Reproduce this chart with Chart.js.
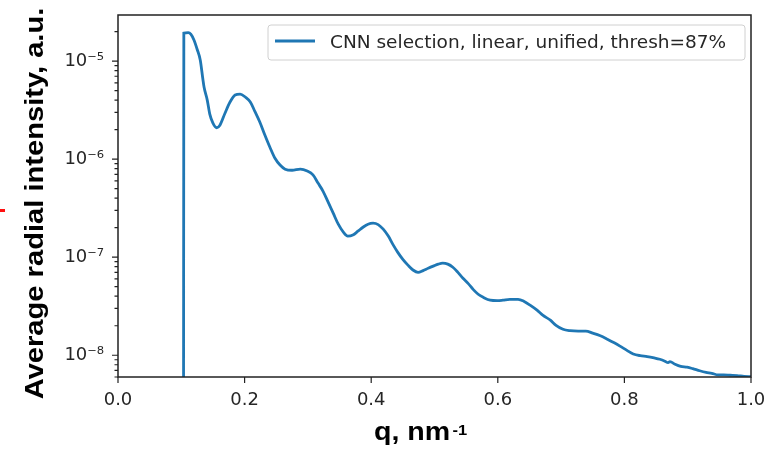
<!DOCTYPE html>
<html>
<head>
<meta charset="utf-8">
<script src="https://cdn.jsdelivr.net/npm/chart.js@4.4.1/dist/chart.umd.min.js"></script>
<style>
    html, body { margin: 0; padding: 0; background: #fff; }
    #wrap { position: relative; width: 781px; height: 451px; }
    #mark { position: absolute; left: 0; top: 209px; width: 5px; height: 3px; background: #ff1010; }
</style>
</head>
<body>
<div id="wrap">
    <canvas id="saxsChart" width="781" height="451"></canvas>
    <div id="mark"></div>
</div>
<script>
// q (nm^-1) and averaged radial intensity
const qValues = [
    0.1035, 0.104, 0.111, 0.115, 0.120, 0.125, 0.130, 0.134, 0.136, 0.141,
    0.145, 0.150, 0.156, 0.161, 0.169, 0.177, 0.185, 0.193, 0.201, 0.209,
    0.216, 0.224, 0.232, 0.240, 0.248, 0.256, 0.264, 0.275, 0.288, 0.299,
    0.308, 0.316, 0.324, 0.332, 0.340, 0.348, 0.356, 0.363, 0.371, 0.379,
    0.387, 0.395, 0.403, 0.411, 0.419, 0.427, 0.434, 0.442, 0.450, 0.458,
    0.466, 0.474, 0.482, 0.490, 0.498, 0.506, 0.513, 0.521, 0.529, 0.537,
    0.545, 0.553, 0.561, 0.569, 0.577, 0.588, 0.599, 0.608, 0.619, 0.632,
    0.641, 0.651, 0.662, 0.671, 0.683, 0.692, 0.703, 0.714, 0.727, 0.739,
    0.750, 0.762, 0.773, 0.784, 0.793, 0.804, 0.814, 0.825, 0.836, 0.847,
    0.856, 0.864, 0.869, 0.872, 0.880, 0.889, 0.899, 0.908, 0.919, 0.929,
    0.938, 0.948, 0.957, 0.967, 0.978, 0.989, 1.000
];
const intensity = [
    1e-9, 1.93e-5, 1.95e-5, 1.88e-5, 1.64e-5, 1.32e-5, 1.02e-5, 6.6e-6, 5.4e-6, 4.0e-6,
    2.88e-6, 2.33e-6, 2.09e-6, 2.22e-6, 2.94e-6, 3.82e-6, 4.5e-6, 4.6e-6, 4.3e-6, 3.82e-6,
    3.09e-6, 2.39e-6, 1.76e-6, 1.32e-6, 1.02e-6, 8.7e-7, 7.9e-7, 7.7e-7, 7.9e-7, 7.55e-7,
    6.9e-7, 5.7e-7, 4.7e-7, 3.64e-7, 2.81e-7, 2.17e-7, 1.80e-7, 1.64e-7, 1.68e-7, 1.84e-7,
    2.02e-7, 2.17e-7, 2.22e-7, 2.15e-7, 1.93e-7, 1.64e-7, 1.36e-7, 1.12e-7, 9.5e-8, 8.3e-8,
    7.4e-8, 7.0e-8, 7.3e-8, 7.7e-8, 8.1e-8, 8.5e-8, 8.7e-8, 8.5e-8, 7.9e-8, 7.0e-8,
    6.1e-8, 5.4e-8, 4.7e-8, 4.19e-8, 3.9e-8, 3.64e-8, 3.6e-8, 3.64e-8, 3.72e-8, 3.72e-8,
    3.56e-8, 3.24e-8, 2.88e-8, 2.56e-8, 2.28e-8, 2.02e-8, 1.84e-8, 1.78e-8, 1.76e-8, 1.76e-8,
    1.68e-8, 1.58e-8, 1.46e-8, 1.34e-8, 1.24e-8, 1.12e-8, 1.03e-8, 9.9e-9, 9.7e-9, 9.4e-9,
    9.1e-9, 8.7e-9, 8.4e-9, 8.6e-9, 8.1e-9, 7.7e-9, 7.55e-9, 7.3e-9, 6.95e-9, 6.7e-9,
    6.55e-9, 6.3e-9, 6.3e-9, 6.25e-9, 6.2e-9, 6.1e-9, 6.05e-9
];
const seriesLabel = 'CNN selection, linear, unified, thresh=87%';

const xTickValues = [0, 0.2, 0.4, 0.6, 0.8, 1.0];
const yTickValues = [1e-8, 1e-7, 1e-6, 1e-5];
const yTickLabels = ['10\u207B\u2078', '10\u207B\u2077', '10\u207B\u2076', '10\u207B\u2075'];
const yMin = 6e-9, yMax = 2.95e-5;

const xTitle = 'q, nm';
const xTitleSup = '-1';
const yTitle = 'Average radial intensity, a.u.';

const tickFont = { family: 'DejaVu Sans', size: 18 };

function logTicks(min, max) {
    const out = [];
    for (let e = Math.floor(Math.log10(min)); e <= Math.ceil(Math.log10(max)); e++) {
        for (let m = 1; m <= 9; m++) {
            const v = m * Math.pow(10, e);
            if (v >= min && v <= max) out.push({ value: v, major: m === 1 });
        }
    }
    return out;
}

// axes frame, tick marks, legend box and axis titles drawn like matplotlib
const decorPlugin = {
    id: 'decor',
    afterDraw(chart) {
        const ctx = chart.ctx;
        const a = chart.chartArea;
        const xs = chart.scales.x, ys = chart.scales.y;
        ctx.save();
        ctx.strokeStyle = '#222';
        ctx.lineWidth = 1.2;
        ctx.beginPath();
        xs.ticks.forEach(t => {
            const px = xs.getPixelForValue(t.value);
            ctx.moveTo(px, a.bottom);
            ctx.lineTo(px, a.bottom + 6);
        });
        ys.ticks.forEach(t => {
            const py = ys.getPixelForValue(t.value);
            const len = t.major ? 6 : 3.5;
            ctx.moveTo(a.left - len, py);
            ctx.lineTo(a.left, py);
        });
        ctx.stroke();

        ctx.lineWidth = 1.5;
        ctx.strokeRect(a.left, a.top, a.right - a.left, a.bottom - a.top);

        // legend
        const lx = a.right - 483, ly = a.top + 10;
        ctx.beginPath();
        ctx.roundRect(lx, ly, 477, 35, 3);
        ctx.fillStyle = 'rgba(255,255,255,0.8)';
        ctx.fill();
        ctx.strokeStyle = '#d0d0d0';
        ctx.lineWidth = 1;
        ctx.stroke();
        const ds = chart.data.datasets[0];
        ctx.beginPath();
        ctx.strokeStyle = ds.borderColor;
        ctx.lineWidth = ds.borderWidth;
        ctx.moveTo(lx + 7, ly + 16);
        ctx.lineTo(lx + 47, ly + 16);
        ctx.stroke();
        ctx.fillStyle = '#262626';
        ctx.font = '18.5px "DejaVu Sans"';
        ctx.textAlign = 'left';
        ctx.textBaseline = 'alphabetic';
        ctx.fillText(ds.label, lx + 62, ly + 23);

        // axis titles
        ctx.fillStyle = '#000';
        ctx.font = 'bold 26px "Liberation Sans"';
        ctx.save();
        ctx.translate(43, (a.top + a.bottom) / 2 + 7.5);
        ctx.rotate(-Math.PI / 2);
        ctx.scale(1.12, 1);
        ctx.textAlign = 'center';
        ctx.fillText(yTitle, 0, 0);
        ctx.restore();

        ctx.save();
        ctx.translate(374, 440);
        ctx.scale(1.1, 1);
        ctx.textAlign = 'left';
        ctx.fillText(xTitle, 0, 0);
        const w = ctx.measureText(xTitle).width;
        ctx.font = 'bold 15px "Liberation Sans"';
        ctx.fillText(xTitleSup, w + 2, -5);
        ctx.restore();

        ctx.restore();
    }
};

const ctx = document.getElementById('saxsChart').getContext('2d');
new Chart(ctx, {
    type: 'line',
    data: {
        datasets: [{
            label: seriesLabel,
            data: qValues.map((q, i) => ({ x: q, y: intensity[i] })),
            borderColor: '#1f77b4',
            borderWidth: 2.8,
            pointRadius: 0,
            cubicInterpolationMode: 'monotone',
            fill: false
        }]
    },
    options: {
        responsive: false,
        animation: false,
        devicePixelRatio: 1,
        layout: { padding: { left: 0, right: 30, top: 15, bottom: 0 } },
        plugins: {
            legend: { display: false },
            tooltip: { enabled: false }
        },
        scales: {
            x: {
                type: 'linear',
                min: 0,
                max: 1,
                grid: { display: false, drawTicks: false },
                border: { display: false },
                afterBuildTicks: s => { s.ticks = xTickValues.map(v => ({ value: v })); },
                afterFit: s => { s.height = 74; s.paddingLeft = 0; s.paddingRight = 0; },
                ticks: {
                    font: tickFont,
                    color: '#262626',
                    padding: 13,
                    maxRotation: 0,
                    autoSkip: false,
                    callback: v => v.toFixed(1)
                }
            },
            y: {
                type: 'logarithmic',
                min: yMin,
                max: yMax,
                grid: { display: false, drawTicks: false },
                border: { display: false },
                afterBuildTicks: s => { s.ticks = logTicks(yMin, yMax); },
                afterFit: s => { s.width = 118; s.paddingTop = 0; s.paddingBottom = 0; },
                ticks: {
                    font: tickFont,
                    color: '#262626',
                    padding: 14,
                    autoSkip: false,
                    callback: (v, i, ticks) => {
                        if (!ticks[i].major) return '';
                        const k = yTickValues.findIndex(t => Math.abs(Math.log10(t) - Math.log10(v)) < 1e-6);
                        return k >= 0 ? yTickLabels[k] : '';
                    }
                }
            }
        }
    },
    plugins: [decorPlugin]
});
</script>
</body>
</html>
